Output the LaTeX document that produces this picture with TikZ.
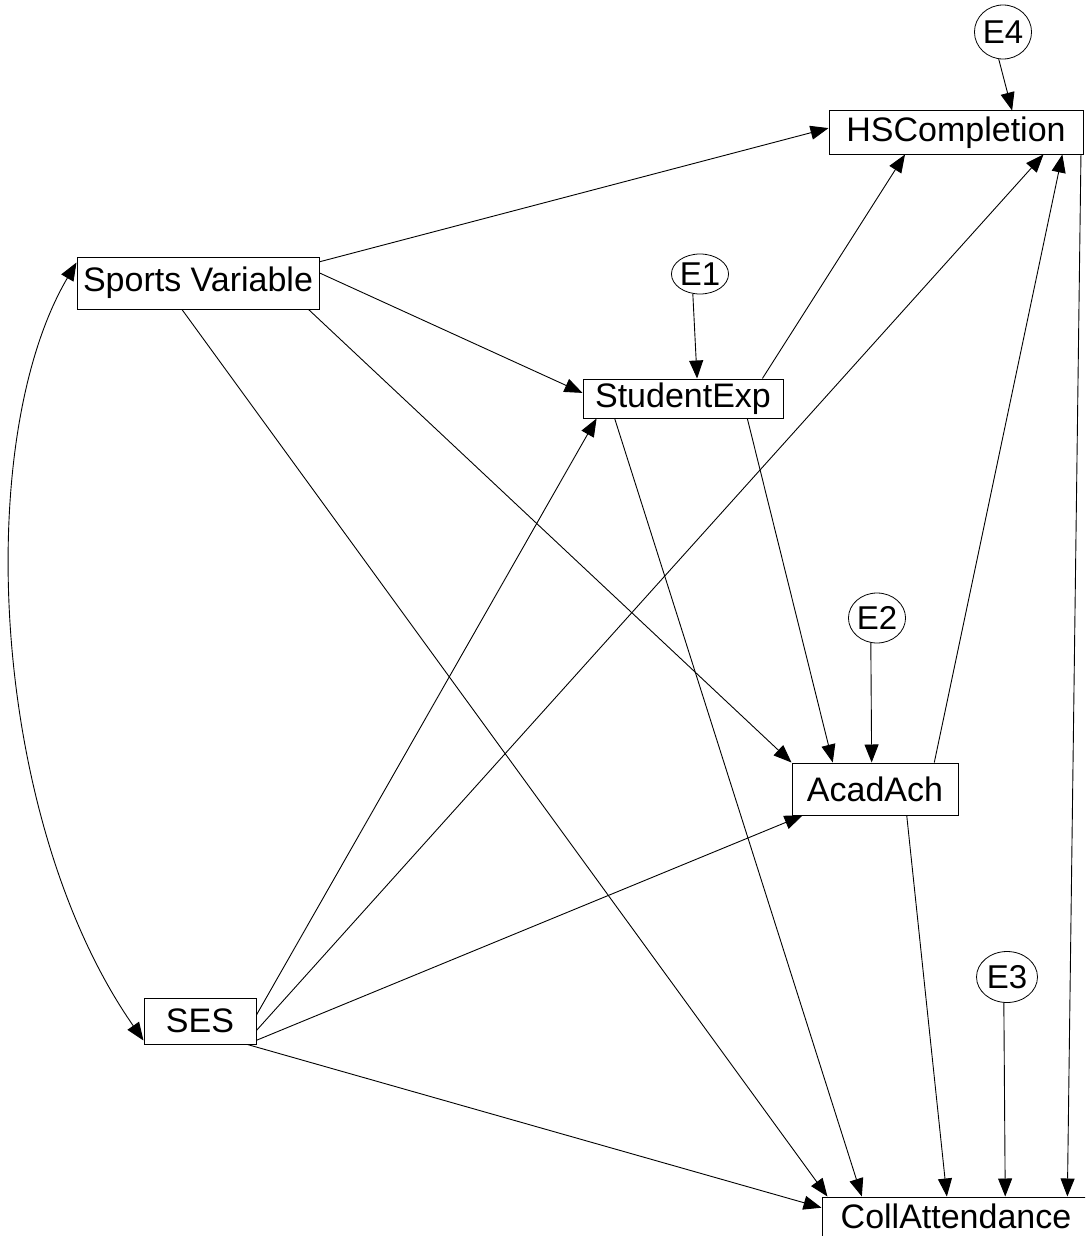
\documentclass[tikz,border=0pt]{standalone}
\usepackage{fontspec}
\setmainfont{Liberation Sans}
\usetikzlibrary{arrows.meta,calc,shapes.geometric}
\begin{document}
\begin{tikzpicture}[x=1pt,y=-1pt,
 var/.style={draw,line width=1pt,inner sep=0pt,font=\fontsize{34}{40}\selectfont},
 err/.style={draw,ellipse,line width=0.8pt,inner sep=0pt,font=\fontsize{33}{38}\selectfont},
 arr/.style={line width=0.9pt,-{Triangle[length=18pt,width=14pt]}},
 dbl/.style={line width=0.9pt,{Triangle[length=18pt,width=14pt]}-{Triangle[length=18pt,width=14pt]}}]
\useasboundingbox (0,0) rectangle (1085,1236);
\clip (0,0) rectangle (1085,1236);
% variables
\node[var,minimum width=254pt,minimum height=43pt] (hs) at (956,132.5) {HSCompletion};
\node[var,minimum width=242pt,minimum height=52pt] (sports) at (198,283) {Sports Variable};
\node[var,minimum width=200pt,minimum height=39pt] (se) at (683,398.5) {StudentExp};
\node[var,minimum width=166pt,minimum height=52pt] (aa) at (875,789) {AcadAch};
\node[var,minimum width=112pt,minimum height=46pt] (ses) at (200,1021) {SES};
\node[var,minimum width=268pt,minimum height=39pt] (ca) at (956,1216.5) {CollAttendance};
% errors
\node[err,minimum width=54pt,minimum height=54pt] (e4) at (1003,32) {E4};
\node[err,minimum width=57pt,minimum height=40pt] (e1) at (700,274) {E1};
\node[err,minimum width=52pt,minimum height=50pt] (e2) at (877,618) {E2};
\node[err,minimum width=61pt,minimum height=51pt] (e3) at (1007,977) {E3};
% error paths
\draw[arr] (e4.261) -- ($(hs.north west)!0.72!(hs.north east)$);
\draw[arr] (e1.250) -- ($(se.north west)!0.57!(se.north east)$);
\draw[arr] (e2.256) -- ($(aa.north west)!0.48!(aa.north east)$);
\draw[arr] (e3.263) -- ($(ca.north west)!0.683!(ca.north east)$);
% from Sports Variable
\draw[arr] ($(sports.north east)!0.10!(sports.south east)$) -- ($(hs.north west)!0.40!(hs.south west)$);
\draw[arr] ($(sports.north east)!0.31!(sports.south east)$) -- ($(se.north west)!0.36!(se.south west)$);
\draw[arr] ($(sports.south west)!0.955!(sports.south east)$) -- (aa.north west);
\draw[arr] ($(sports.south west)!0.434!(sports.south east)$) -- ($(ca.north west)!0.022!(ca.north east)$);
% covariance
\draw[dbl] ($(sports.north west)+(0,6)$) .. controls (-28,440) and (-10,820) .. ($(ses.south west)+(0,-4)$);
% from StudentExp
\draw[arr] ($(se.north west)!0.895!(se.north east)$) -- ($(hs.south west)!0.30!(hs.south east)$);
\draw[arr] ($(se.south west)!0.82!(se.south east)$) -- ($(aa.north west)!0.247!(aa.north east)$);
\draw[arr] ($(se.south west)!0.16!(se.south east)$) -- ($(ca.north west)!0.15!(ca.north east)$);
% from SES
\draw[arr] ($(ses.north east)!0.37!(ses.south east)$) -- ($(se.south west)!0.07!(se.south east)$);
\draw[arr] ($(ses.north east)!0.70!(ses.south east)$) -- ($(hs.south west)!0.843!(hs.south east)$);
\draw[arr] ($(ses.north east)!0.91!(ses.south east)$) -- ($(aa.south west)!0.066!(aa.south east)$);
\draw[arr] ($(ses.south west)!0.92!(ses.south east)$) -- ($(ca.north west)!0.28!(ca.south west)$);
% from AcadAch
\draw[arr] ($(aa.north west)!0.855!(aa.north east)$) -- ($(hs.south west)!0.917!(hs.south east)$);
\draw[arr] ($(aa.south west)!0.69!(aa.south east)$) -- ($(ca.north west)!0.466!(ca.north east)$);
% from HSCompletion
\draw[arr] ($(hs.south west)!0.99!(hs.south east)$) -- ($(ca.north west)!0.914!(ca.north east)$);
\end{tikzpicture}
\end{document}
